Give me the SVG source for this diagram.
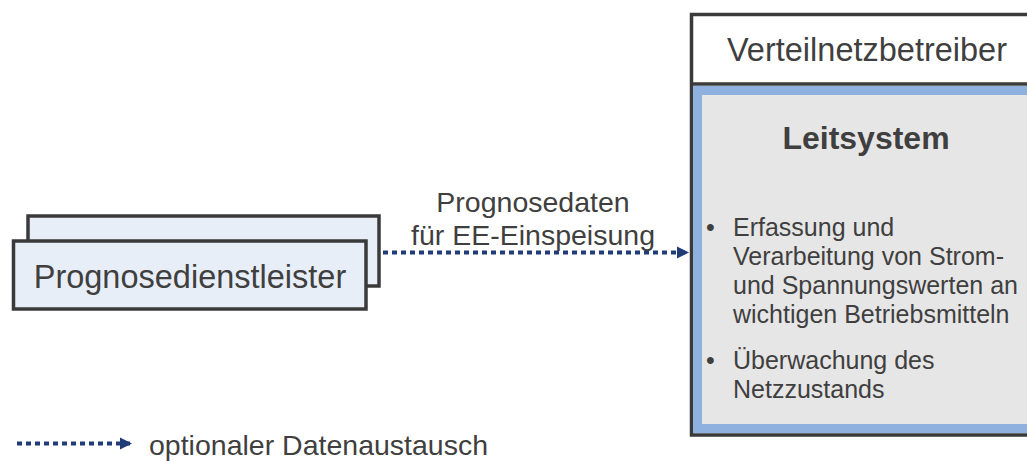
<svg xmlns="http://www.w3.org/2000/svg" width="1027" height="461" viewBox="0 0 1027 461">
<defs>
<marker id="arr" viewBox="0 0 10 10" refX="10" refY="5" markerWidth="3" markerHeight="3.3" markerUnits="strokeWidth" orient="auto">
<path d="M0,0 L10,5 L0,10 z" fill="#1F3C78"/>
</marker>
<style>
.t{font-family:"Liberation Sans",Arial,sans-serif;fill:#3F3F3F}
.box{fill:#E8EEF8;stroke:#3A3A3A;stroke-width:3.5}
.con{stroke:#1F3C78;stroke-width:4;stroke-dasharray:5 4;fill:none}
</style>
</defs>
<rect width="1027" height="461" fill="#FFFFFF"/>
<g id="prognosedienstleister">
<rect class="box" x="28" y="216" width="351" height="70"/>
<rect class="box" x="13.5" y="241" width="352.5" height="68"/>
<text class="t" x="190" y="288" font-size="32.5" text-anchor="middle">Prognosedienstleister</text>
</g>
<g id="verteilnetzbetreiber">
<rect x="691.5" y="14.5" width="345" height="420.5" fill="#FFFFFF" stroke="#3A3A3A" stroke-width="3.5"/>
<rect x="697.5" y="90.5" width="340" height="338" fill="#E6E6E6" stroke="#8EB1DF" stroke-width="9"/>
<line x1="691" y1="84" x2="1027" y2="84" stroke="#3A3A3A" stroke-width="3.5"/>
<text class="t" x="867" y="61" font-size="32.5" text-anchor="middle">Verteilnetzbetreiber</text>
<text class="t" x="866" y="149" font-size="32" font-weight="bold" text-anchor="middle">Leitsystem</text>
<g class="t" font-size="25">
<text x="706" y="236">•</text>
<text x="733" y="236">Erfassung und</text>
<text x="733" y="265">Verarbeitung von Strom-</text>
<text x="733" y="294">und Spannungswerten an</text>
<text x="733" y="323">wichtigen Betriebsmitteln</text>
<text x="706" y="369">•</text>
<text x="733" y="369">Überwachung des</text>
<text x="733" y="398">Netzzustands</text>
</g>
</g>
<g id="connectors">
<line class="con" x1="383" y1="252.5" x2="689" y2="252.5" marker-end="url(#arr)"/>
<text class="t" x="533" y="212" font-size="28.5" text-anchor="middle">Prognosedaten</text>
<text class="t" x="533" y="245" font-size="28.5" text-anchor="middle">für EE-Einspeisung</text>
</g>
<g id="legend">
<line class="con" x1="17" y1="443.5" x2="132" y2="443.5" marker-end="url(#arr)"/>
<text class="t" x="149" y="455" font-size="28.5">optionaler Datenaustausch</text>
</g>
</svg>
